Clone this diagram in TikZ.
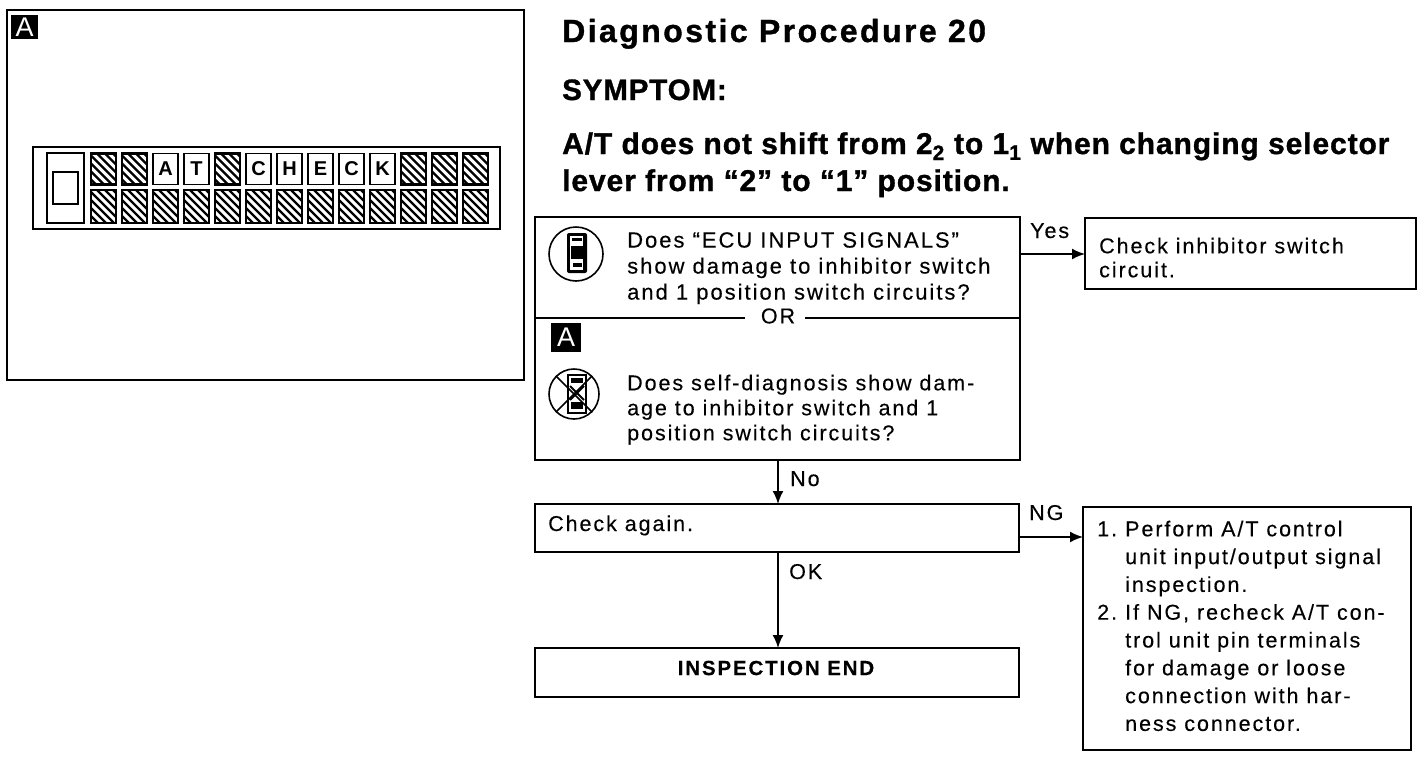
\documentclass[tikz,border=0pt]{standalone}
\usepackage{fontspec}
\setmainfont{Liberation Sans}
\newfontfamily\bodyfont[LetterSpace=9, FakeBold=0.25]{Liberation Sans}
\newfontfamily\titlefont[LetterSpace=7.6, BoldFeatures={FakeBold=1.1}]{Liberation Sans}
\newfontfamily\headfont[LetterSpace=3, BoldFeatures={FakeBold=1.1}]{Liberation Sans}
\usetikzlibrary{arrows.meta}
\tikzset{
    boxline/.style={draw, line width=2pt, outer sep=0pt, anchor=north west, inner sep=0pt},
    bodytext/.style={anchor=north west, inner sep=0pt, align=left, font=\fontsize{21.5}{26}\selectfont\bodyfont},
    labeltext/.style={bodytext, anchor=base west},
    headtext/.style={anchor=base west, inner sep=0pt, font=\fontsize{30}{37}\selectfont\headfont\bfseries},
    flowarrow/.style={line width=1.8pt, -{Latex[length=13pt,width=11pt]}},
    cell/.style={draw, line width=1.6pt, outer sep=0pt, minimum width=25pt, minimum height=31pt, inner sep=0pt, font=\fontsize{20}{20}\selectfont\bfseries},
    hatchcell/.style={cell, line width=2.6pt, path picture={
        \foreach \s in {-36,-28,...,26}{
            \draw [line width=2.4pt] (path picture bounding box.north west) ++(\s,-2) -- ++(44,44);
        }
    }},
    badge/.style={fill=black, text=white, inner sep=0pt, anchor=north west, minimum width=27pt, minimum height=24pt, font=\fontsize{27}{27}\selectfont},
}
\begin{document}
\begin{tikzpicture}[x=1pt, y=-1pt]
    \useasboundingbox (0,0) rectangle (1424,758);

    % left panel with the display
    \node [boxline, minimum width=517pt, minimum height=370pt] (panel) at (7,10) {};
    \node [badge] (badgeL) at (11,15) {A};
    \node [boxline, minimum width=467pt, minimum height=82pt] (display) at (33,147) {};
    \node [boxline, minimum width=37pt, minimum height=70pt] (switch) at (47,153) {};
    \node [boxline, anchor=center, minimum width=25pt, minimum height=32pt] (lamp) at (switch.center) {};
    \foreach \i/\letter in {2/A, 3/T, 5/C, 6/H, 7/E, 8/C, 9/K}{
        \node [cell] (top\i) at ({103.5+31*\i},169) {\letter};
    }
    \foreach \i in {0, 1, 4, 10, 11, 12}{
        \node [hatchcell] (top\i) at ({103.5+31*\i},169) {};
    }
    \foreach \i in {0,...,12}{
        \node [hatchcell, minimum height=33pt] (bot\i) at ({103.5+31*\i},206.5) {};
    }

    % heading
    \node [headtext, font=\fontsize{32}{37}\selectfont\titlefont\bfseries] (title) at (562,42) {Diagnostic Procedure 20};
    \node [headtext, font=\fontsize{29.5}{37}\selectfont\headfont\bfseries] (symptom) at (562,100) {SYMPTOM:};
    \node [headtext] (line1) at (562,154) {A/T does not shift from 2\textsubscript{2} to 1\textsubscript{1} when changing selector};
    \node [headtext] (line2) at (562,191) {lever from “2” to “1” position.};

    % question box
    \node [boxline, minimum width=485pt, minimum height=243pt] (qbox) at (535,217) {};
    \node [bodytext, font=\fontsize{22}{26}\selectfont\bodyfont] (q1) at (627,232) {Does “ECU INPUT SIGNALS”\\show damage to inhibitor switch\\and 1 position switch circuits?};
    \node [bodytext, anchor=center] (orword) at (778,316) {OR};
    \draw [line width=2pt] (qbox.west |- 0,318) -- (745,318);
    \draw [line width=2pt] (805,318) -- (qbox.east |- 0,318);
    \node [badge, minimum width=30pt, minimum height=29pt] (badgeR) at (551,323) {A};
    \node [bodytext, font=\fontsize{21.5}{25}\selectfont\bodyfont] (q2) at (627,374.5) {Does self-diagnosis show dam-\\age to inhibitor switch and 1\\position switch circuits?};

    % tester icon, plain
    \node [circle, draw, line width=1.6pt, minimum size=54pt, inner sep=0pt] (iconA) at (576,254) {};
    \fill [rounded corners=2pt] (567,233) rectangle (587,273);
    \fill [white] (570,236) rectangle (583,270);
    \fill (571,246) rectangle (583,259);
    \fill (572,238) rectangle (582,241);
    \fill (573,263) rectangle (582,267);

    % tester icon, crossed out
    \node [circle, draw, line width=1.6pt, minimum size=50pt, inner sep=0pt] (iconB) at (574,394) {};
    \draw [line width=2.4pt] (568,375) rectangle (586,413);
    \fill (571,378) rectangle (583,383);
    \fill (571,402) rectangle (583,409);
    \draw [line width=1.6pt] (iconB.north west) -- (iconB.south east);
    \draw [line width=1.6pt] (iconB.north east) -- (iconB.south west);
    \draw [line width=2pt] (570,386) -- (584,400);
    \draw [line width=2pt] (584,386) -- (570,400);

    % other boxes
    \node [boxline, minimum width=331pt, minimum height=71pt] (inhibitor) at (1085,218) {};
    \node [bodytext, font=\fontsize{21.5}{24}\selectfont\bodyfont] (inhibitortext) at (1099,237.5) {Check inhibitor switch\\circuit.};
    \node [boxline, minimum width=484pt, minimum height=48pt] (again) at (535,504) {};
    \node [labeltext] (againtext) at (548,531) {Check again.};
    \node [boxline, minimum width=484pt, minimum height=49pt] (finish) at (535,648) {};
    \node [bodytext, anchor=center, font=\fontsize{20.5}{25}\selectfont\bodyfont\bfseries] (finishtext) at (776,668) {INSPECTION END};
    \node [boxline, minimum width=328pt, minimum height=243pt] (perform) at (1083,507) {};
    \node [bodytext, font=\fontsize{21.5}{27.8}\selectfont\bodyfont] (steps) at (1097,520.5) {\makebox[28pt][l]{1.}Perform A/T control\\\hspace*{28pt}unit input/output signal\\\hspace*{28pt}inspection.\\\makebox[28pt][l]{2.}If NG, recheck A/T con-\\\hspace*{28pt}trol unit pin terminals\\\hspace*{28pt}for damage or loose\\\hspace*{28pt}connection with har-\\\hspace*{28pt}ness connector.};

    % connectors
    \draw [flowarrow] (qbox.east |- 0,254) -- (inhibitor.west |- 0,254);
    \node [labeltext] (yes) at (1030,238) {Yes};
    \draw [flowarrow] (qbox.south -| 778,0) -- (again.north -| 778,0);
    \node [labeltext] (no) at (790,486) {No};
    \draw [flowarrow] (again.south -| 778,0) -- (finish.north -| 778,0);
    \node [labeltext] (ok) at (789,579) {OK};
    \draw [flowarrow] (again.east |- 0,537) -- (perform.west |- 0,537);
    \node [labeltext] (ng) at (1029,520) {NG};
\end{tikzpicture}
\end{document}
